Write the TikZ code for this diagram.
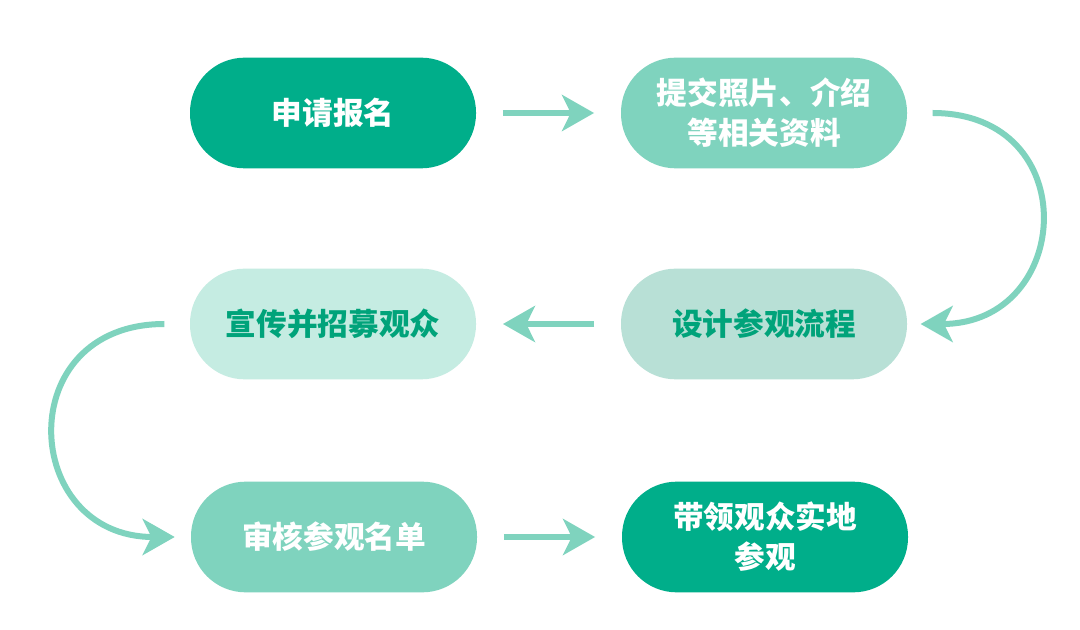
\documentclass[tikz,border=0pt]{standalone}
\usepackage{fontspec}
\newfontfamily\cjk{Noto Sans CJK SC}
\usetikzlibrary{arrows.meta}
\definecolor{darkgreen}{RGB}{0,174,138}
\definecolor{midgreen}{RGB}{127,211,190}
\definecolor{palegreen}{RGB}{184,224,214}
\definecolor{lightgreen}{RGB}{197,236,226}
\definecolor{textgreen}{RGB}{0,163,122}

\begin{document}
\begin{tikzpicture}[x=0.75pt, y=-0.75pt,
    pill/.style={rectangle, rounded corners=41pt, minimum width=214.5pt,
        minimum height=83pt, inner sep=0pt, align=center,
        font=\cjk\bfseries\fontsize{23}{30}\selectfont},
    flow/.style={draw=midgreen, line width=4.5pt,
        -{Stealth[length=24pt, width=27pt, inset=6.5pt]}}]
    \useasboundingbox[fill=white] (0, 0) rectangle (1080, 630);

    \node[pill, fill=darkgreen, text=white] (apply) at (333, 113) {申请报名};
    \node[pill, fill=midgreen, text=white] (submit) at (764, 113) {提交照片、介绍\\等相关资料};
    \node[pill, fill=palegreen, text=textgreen] (design) at (764, 324) {设计参观流程};
    \node[pill, fill=lightgreen, text=textgreen] (promote) at (333, 324) {宣传并招募观众};
    \node[pill, fill=midgreen, text=white] (review) at (334, 537) {审核参观名单};
    \node[pill, fill=darkgreen, text=white] (guide) at (765, 537) {带领观众实地\\参观};

    \draw[flow] ([xshift=20pt]apply.east) -- ([xshift=-20pt]submit.west);
    \draw[flow] ([xshift=19pt]submit.east) to[out=0, in=0, looseness=1.85] ([xshift=10pt]design.east);
    \draw[flow] ([xshift=-20pt]design.west) -- ([xshift=20pt]promote.east);
    \draw[flow] ([xshift=-19pt]promote.west) to[out=180, in=180, looseness=1.85] ([xshift=-12pt]review.west);
    \draw[flow] ([xshift=20pt]review.east) -- ([xshift=-20pt]guide.west);
\end{tikzpicture}
\end{document}
